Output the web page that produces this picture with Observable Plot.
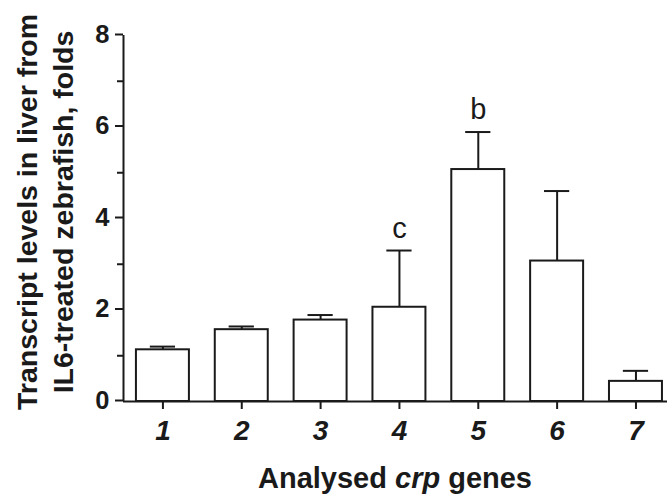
<!DOCTYPE html>
<html><head><meta charset="utf-8">
<script src="https://cdn.jsdelivr.net/npm/d3@7"></script>
<script src="https://cdn.jsdelivr.net/npm/@observablehq/plot@0.6"></script>
<style>
body{margin:0;background:#fff;}
#chart svg{display:block;}
</style></head><body><div id="chart"></div>
<script>
// ---- data ----
const genes = ["1","2","3","4","5","6","7"];
const means = [1.13, 1.57, 1.78, 2.06, 5.07, 3.07, 0.44];
const sems  = [0.07, 0.07, 0.11, 1.24, 0.82, 1.53, 0.23];
const letters = ["", "", "", "c", "b", "", ""];
const yMajor = [0, 2, 4, 6, 8];
const yMinor = [1, 3, 5, 7];
const yTitle = ["Transcript levels in liver from", "IL6-treated zebrafish, folds"];
const xTitle = ["Analysed ", "crp", " genes"];

const data = genes.map((g, i) => ({gene: g, pos: i + 1, mean: means[i], top: means[i] + sems[i], letter: letters[i]}));
const ink = "#1a1a1a";
const FONT = "'Liberation Sans', Arial, sans-serif";
const halfBar = 0.336, halfCap = 0.16;

const svg = Plot.plot({
  width: 667, height: 497,
  marginLeft: 123, marginRight: 0, marginTop: 35, marginBottom: 96,
  style: {background: "#fff", color: ink, fontFamily: FONT},
  x: {domain: [0.5, 7.4], axis: null},
  y: {domain: [0, 8], axis: null},
  marks: [
    Plot.rect(data, {x1: d => d.pos - halfBar, x2: d => d.pos + halfBar, y1: 0, y2: "mean", fill: "white", stroke: ink, strokeWidth: 2}),
    Plot.ruleX(data, {x: "pos", y1: "mean", y2: "top", stroke: ink, strokeWidth: 2}),
    Plot.ruleY(data, {y: "top", x1: d => d.pos - halfCap, x2: d => d.pos + halfCap, stroke: ink, strokeWidth: 2}),
    Plot.text(data.filter(d => d.letter), {x: "pos", y: "top", text: "letter", dy: -13, lineAnchor: "bottom", fontSize: 29, fill: ink}),
    Plot.ruleX([0.5], {y1: 0, y2: 8, stroke: ink, strokeWidth: 2}),
    Plot.ruleY([0], {stroke: ink, strokeWidth: 2}),
    Plot.axisY({ticks: yMajor, tickSize: 8, tickPadding: 6, tickFormat: d => String(d), fontSize: 25.5, fontWeight: "bold", strokeWidth: 2, label: null, dy: -1, ariaLabel: "y-major"}),
    Plot.axisY({ticks: yMinor, tickSize: 6, tickFormat: () => "", strokeWidth: 2, label: null}),
    Plot.axisX({ticks: d3.range(1, genes.length + 1), tickSize: 8, tickPadding: 11, tickFormat: d => genes[d - 1], fontSize: 28, fontWeight: "bold", fontStyle: "italic", strokeWidth: 2, label: null})
  ]
});
document.getElementById("chart").appendChild(svg);

// y tick digits are slightly wider in the reference
d3.select(svg).selectAll('g[aria-label="y-axis tick label"] text').each(function() {
  const t = this.getAttribute("transform");
  if (t && t.includes("translate")) this.setAttribute("transform", t + " scale(1.12,1)");
});

const root = d3.select(svg);
// y title, two rotated lines
[37, 73].forEach((bx, i) => {
  root.append("g").attr("transform", `translate(${bx},212) rotate(-90)`)
    .append("text").attr("text-anchor", "middle").attr("font-family", FONT)
    .attr("font-size", 28.5).attr("font-weight", "bold").attr("fill", ink).text(yTitle[i]);
});
// x title with italic gene name
const xt = root.append("g").attr("transform", `translate(395,488)`)
  .append("text").attr("text-anchor", "middle").attr("font-family", FONT)
  .attr("font-size", 29).attr("font-weight", "bold").attr("fill", ink);
xTitle.forEach((s, i) => xt.append("tspan").attr("font-style", i === 1 ? "italic" : "normal").text(s));
</script></body></html>
